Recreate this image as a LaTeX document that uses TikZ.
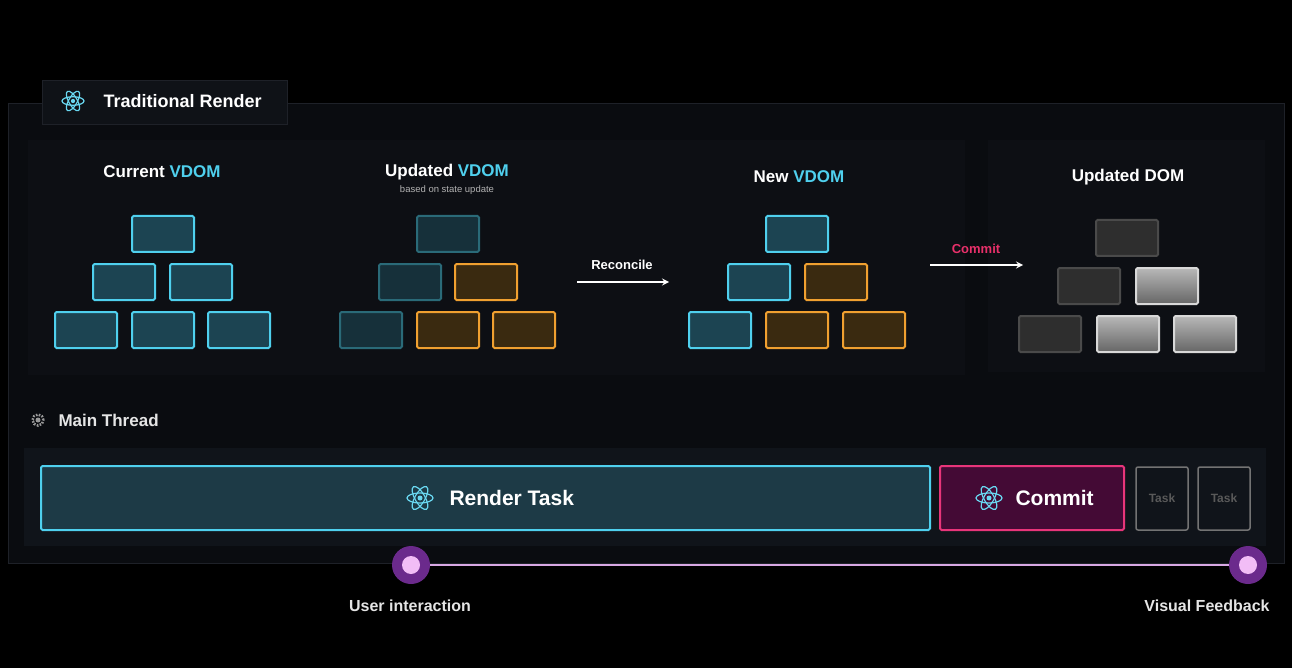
\documentclass[tikz,border=0pt]{standalone}
\usepackage{fontspec}
\setmainfont{Liberation Sans}
\definecolor{panel}{HTML}{0A0C10}
\definecolor{panelb}{HTML}{1E2128}
\definecolor{inner}{HTML}{0D0F14}
\definecolor{tabf}{HTML}{0F1217}
\definecolor{cyb}{HTML}{4FD0EE}
\definecolor{cyf}{HTML}{1C4452}
\definecolor{dcyb}{HTML}{2A6A78}
\definecolor{dcyf}{HTML}{16303A}
\definecolor{orb}{HTML}{F0A030}
\definecolor{orf}{HTML}{3A2A10}
\definecolor{gdb}{HTML}{4A4A4A}
\definecolor{gdf}{HTML}{2E2E2E}
\definecolor{glb}{HTML}{D8D8D8}
\definecolor{bar}{HTML}{10141A}
\definecolor{rtf}{HTML}{1D3A46}
\definecolor{cmb}{HTML}{E8357A}
\definecolor{cmf}{HTML}{440A35}
\definecolor{pink}{HTML}{E8306A}
\definecolor{dotout}{HTML}{6B2A8C}
\definecolor{dotin}{HTML}{F2BDF6}
\definecolor{tline}{HTML}{D8A8E4}
\begin{document}
\begin{tikzpicture}[x=1pt,y=-1pt,
  bx/.style={line width=2pt,minimum width=62pt,minimum height=36pt,inner sep=0pt,rounded corners=1.5pt},
  cy/.style={bx,draw=cyb,fill=cyf},
  dimcy/.style={bx,draw=dcyb,fill=dcyf},
  org/.style={bx,draw=orb,fill=orf},
  gdark/.style={bx,draw=gdb,fill=gdf},
  glight/.style={bx,draw=glb,top color=white!72!black,bottom color=white!40!black},
  ttl/.style={text=white,font=\fontsize{17}{19}\selectfont\bfseries},
  lbl/.style={text=white!90!black,font=\fontsize{16}{18}\selectfont\bfseries},
  arr/.style={draw=white,line width=2pt,-stealth},
  atom/.pic={\foreach \a in {0,60,120}{\draw[cyb!85!white,line width=1.2pt,rotate=\a] (0,0) ellipse (13pt and 5pt);}\fill[cyb!85!white](0,0) circle(2.5pt);}
]
\fill[black] (0,0) rectangle (1292,668);
\draw[fill=panel,draw=panelb] (8,103) rectangle (1284,563);
\fill[inner] (28,140) rectangle (965,375);
\fill[inner] (988,140) rectangle (1265,372);
\draw[fill=tabf,draw=panelb] (42,80) rectangle (287,124);
\pic[scale=0.85] at (73,101) {atom};
\node[anchor=west,text=white,font=\fontsize{18}{20}\selectfont\bfseries] (tr) at (100,101) {Traditional Render};

\node[ttl] (t1) at (162,172) {Current \textcolor{cyb}{VDOM}};
\node[cy] (a1) at (163,234) {};
\node[cy] (a2) at (124,282) {}; \node[cy] (a3) at (201,282) {};
\node[cy] (a4) at (86,330) {}; \node[cy] (a5) at (163,330) {}; \node[cy] (a6) at (239,330) {};

\node[ttl] (t2) at (447,172) {Updated \textcolor{cyb}{VDOM}};
\node[text=white!70!black,font=\fontsize{9.5}{10}\selectfont] (t2s) at (447,190) {based on state update};
\node[dimcy] (b1) at (448,234) {};
\node[dimcy] (b2) at (410,282) {}; \node[org] (b3) at (486,282) {};
\node[dimcy] (b4) at (371,330) {}; \node[org] (b5) at (448,330) {}; \node[org] (b6) at (524,330) {};

\node[text=white,font=\fontsize{13}{15}\selectfont\bfseries] (rec) at (622,265) {Reconcile};
\coordinate (r1) at (577,282); \coordinate (r2) at (669,282);
\draw[arr] (r1) -- (r2);

\node[ttl] (t3) at (799,177) {New \textcolor{cyb}{VDOM}};
\node[cy] (c1) at (797,234) {};
\node[cy] (c2) at (759,282) {}; \node[org] (c3) at (836,282) {};
\node[cy] (c4) at (720,330) {}; \node[org] (c5) at (797,330) {}; \node[org] (c6) at (874,330) {};

\node[text=pink,font=\fontsize{13}{15}\selectfont\bfseries] (com) at (976,249) {Commit};
\coordinate (m1) at (930,265); \coordinate (m2) at (1023,265);
\draw[arr] (m1) -- (m2);

\node[ttl] (t4) at (1128,177) {Updated DOM};
\node[gdark] (d1) at (1127,238) {};
\node[gdark] (d2) at (1089,286) {}; \node[glight] (d3) at (1167,286) {};
\node[gdark] (d4) at (1050,334) {}; \node[glight] (d5) at (1128,334) {}; \node[glight] (d6) at (1205,334) {};

\draw[white!60!black,line width=2.5pt,dash pattern=on 1.6pt off 1.4pt] (38,420) circle (5.5pt);
\fill[white!60!black] (38,420) circle (2.5pt);
\node[anchor=west,lbl,font=\fontsize{17}{19}\selectfont\bfseries] (mt) at (55,420) {Main Thread};

\fill[bar] (24,448) rectangle (1266,546);
\draw[draw=cyb,line width=2pt,fill=rtf,rounded corners=1.5pt] (41,466) rectangle (930,530);
\pic at (420,498) {atom};
\node[anchor=west,text=white,font=\fontsize{21}{23}\selectfont\bfseries] (rt) at (446,498) {Render Task};
\draw[draw=cmb,line width=2pt,fill=cmf,rounded corners=1.5pt] (940,466) rectangle (1124,530);
\pic at (989,498) {atom};
\node[anchor=west,text=white,font=\fontsize{21}{23}\selectfont\bfseries] (cm) at (1012,498) {Commit};
\draw[white!45!black,line width=1.5pt,fill=bar,rounded corners=2pt] (1136,467) rectangle (1188,530);
\node[text=white!35!black,font=\fontsize{12}{14}\selectfont\bfseries] (k1) at (1162,498) {Task};
\draw[white!45!black,line width=1.5pt,fill=bar,rounded corners=2pt] (1198,467) rectangle (1250,530);
\node[text=white!35!black,font=\fontsize{12}{14}\selectfont\bfseries] (k2) at (1224,498) {Task};

\node[circle,fill=dotout,minimum size=38pt,inner sep=0] (u) at (411,565) {};
\node[circle,fill=dotout,minimum size=38pt,inner sep=0] (v) at (1248,565) {};
\draw[tline,line width=2pt] (u) -- (v);
\fill[dotin] (u) circle (9pt);
\fill[dotin] (v) circle (9pt);
\node[lbl] (ul) at (410,606) {User interaction};
\node[lbl] (vl) at (1207,606) {Visual Feedback};
\end{tikzpicture}
\end{document}
